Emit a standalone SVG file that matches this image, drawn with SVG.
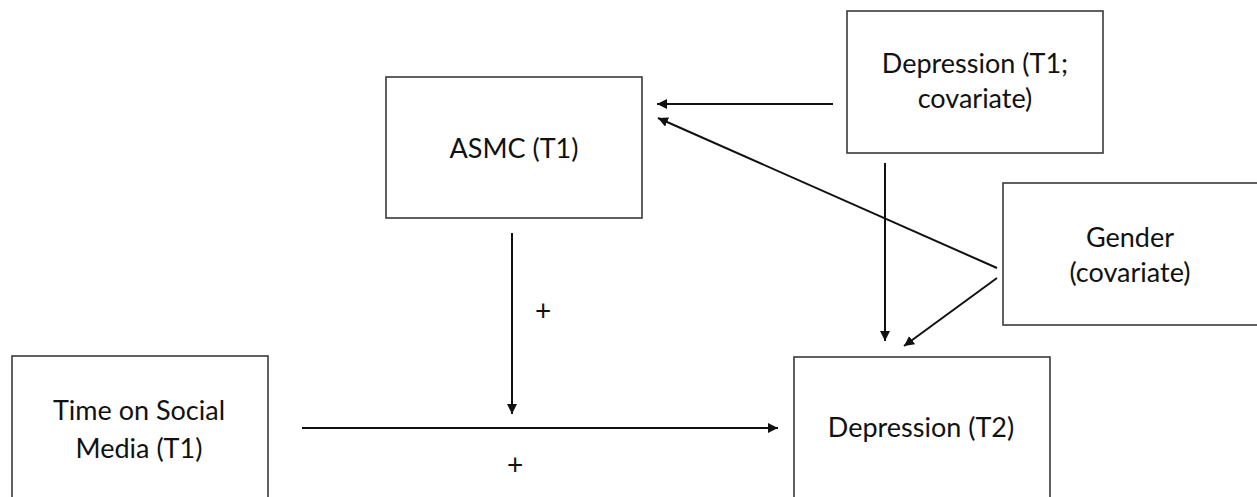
<svg xmlns="http://www.w3.org/2000/svg" width="1257" height="497" viewBox="0 0 1257 497">
  <style>
    .box { fill: #ffffff; stroke: #3a3a3a; stroke-width: 1.6; }
    .lbl { font-family: Lato, "Liberation Sans", sans-serif; font-size: 27px; fill: #111111; text-anchor: middle; }
    .sign { font-family: Lato, "Liberation Sans", sans-serif; font-size: 28px; fill: #111111; text-anchor: middle; }
    .edge { stroke: #111111; stroke-width: 2; fill: none; marker-end: url(#head); }
  </style>
  <defs>
    <marker id="head" viewBox="0 0 10 10" refX="10" refY="5" markerWidth="10" markerHeight="10" markerUnits="userSpaceOnUse" orient="auto">
      <path d="M0,0 L10,5 L0,10 z" fill="#111111"/>
    </marker>
  </defs>
  <rect width="1257" height="497" fill="#ffffff"/>

  <g id="asmc">
    <rect class="box" x="386" y="77" width="256" height="141"/>
    <text class="lbl" x="514" y="158">ASMC (T1)</text>
  </g>

  <g id="depression-t1">
    <rect class="box" x="847" y="11" width="256" height="142"/>
    <text class="lbl" x="975" y="73">Depression (T1;</text>
    <text class="lbl" x="975" y="108">covariate)</text>
  </g>

  <g id="gender">
    <rect class="box" x="1003" y="183" width="260" height="142"/>
    <text class="lbl" x="1130" y="247">Gender</text>
    <text class="lbl" x="1130" y="282">(covariate)</text>
  </g>

  <g id="time-social-media">
    <rect class="box" x="12" y="356" width="256" height="150"/>
    <text class="lbl" x="139" y="420">Time on Social</text>
    <text class="lbl" x="139" y="458">Media (T1)</text>
  </g>

  <g id="depression-t2">
    <rect class="box" x="794" y="357" width="256" height="150"/>
    <text class="lbl" x="921" y="437">Depression (T2)</text>
  </g>

  <g id="connectors">
    <line class="edge" x1="833" y1="104" x2="657" y2="104"/>
    <line class="edge" x1="997" y1="268" x2="658" y2="118"/>
    <line class="edge" x1="885" y1="163" x2="885" y2="341"/>
    <line class="edge" x1="997" y1="278" x2="904" y2="346"/>
    <line class="edge" x1="512" y1="233" x2="512" y2="414"/>
    <line class="edge" x1="302" y1="428" x2="778" y2="428"/>
    <text class="sign" x="543" y="321">+</text>
    <text class="sign" x="515" y="475">+</text>
  </g>
</svg>
